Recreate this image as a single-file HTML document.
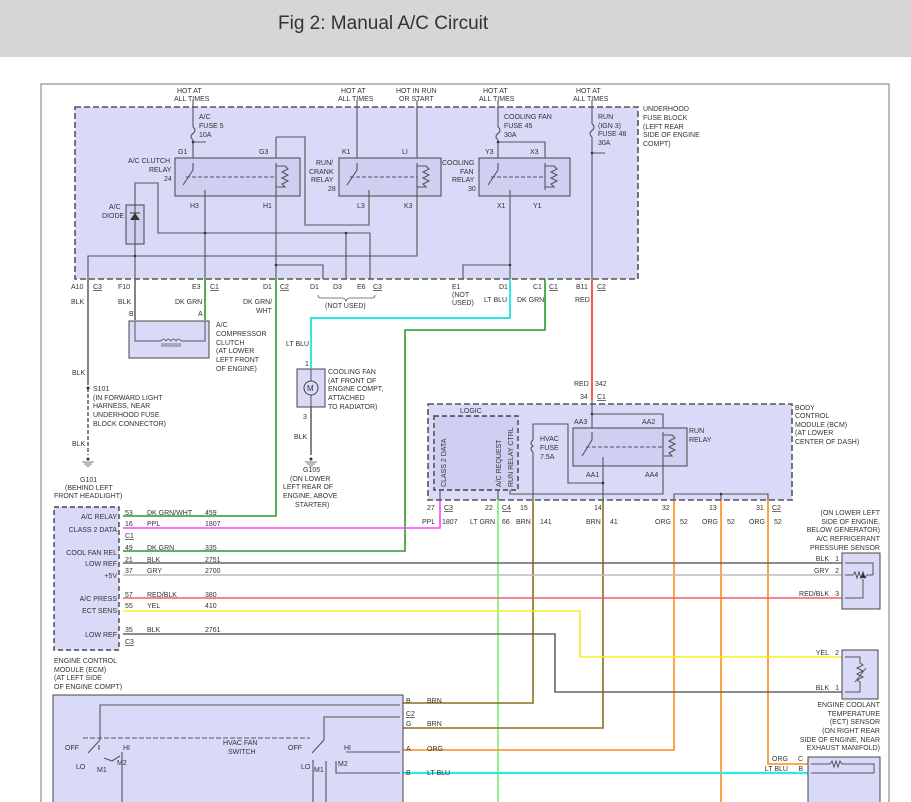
<!DOCTYPE html>
<html><head><meta charset="utf-8"><style>
html,body{margin:0;padding:0;background:#fff;}
svg{display:block;}
text{font-family:"Liberation Sans",sans-serif;font-size:7px;fill:#333;}
</style></head><body>
<svg width="911" height="802" viewBox="0 0 911 802" xmlns="http://www.w3.org/2000/svg">
<rect x="0" y="0" width="911" height="57" fill="#d6d6d6"/>
<text x="278" y="29" style="font-size:19px;fill:#333">Fig 2: Manual A/C Circuit</text>
<!-- outer frame -->
<path d="M41 802 V84 H889 V802" fill="none" stroke="#777" stroke-width="1"/>

<!-- fuse block -->
<rect x="75" y="107" width="563" height="172" fill="#d9d9f8" stroke="#555" stroke-width="1.6" stroke-dasharray="6,3"/>
<g fill="#cfcff2" stroke="#444" stroke-width="1">
<rect x="175" y="158" width="125" height="38"/>
<rect x="339" y="158" width="102" height="38"/>
<rect x="479" y="158" width="91" height="38"/>
<rect x="126" y="205" width="18" height="39"/>
</g>
<g fill="none" stroke="#555" stroke-width="1.1">
<!-- AC clutch relay internals -->
<path d="M193 100 V127 M193 140 V158 M193 142 H206"/>
<path d="M193 127 q4 3 0 6.5 q-4 3 0 6.5"/>
<path d="M193 163 V170 L183 185"/>
<path d="M186 177 H276" stroke-dasharray="4,2"/>
<path d="M205 190 V279 M276 163 V279 M276 137 V158"/>
<path d="M276 166 H285 l3 3 -6 3 6 3 -6 3 6 3 -6 3 3 3 H276"/>
<path d="M276 137 H305 V225 H369 V190"/>
<!-- diode -->
<path d="M135 205 V183 H158 V233 H370 V279 M346 233 V279"/>
<path d="M135 205 V279"/>
<path d="M88 279 V256 H417 V190"/>
<path d="M276 265 H323 V279"/>
<!-- run crank -->
<path d="M357 100 V158 M357 163 V170 L347 185 M417 100 V158"/>
<path d="M350 177 H417" stroke-dasharray="4,2"/>
<path d="M417 166 H426 l3 3 -6 3 6 3 -6 3 6 3 -6 3 3 3 H417"/>
<path d="M417 163 V190"/>
<!-- cooling fan relay -->
<path d="M498 100 V127 M498 140 V158 M498 142 H545 V158"/>
<path d="M498 127 q4 3 0 6.5 q-4 3 0 6.5"/>
<path d="M498 163 V170 L488 185"/>
<path d="M491 177 H545" stroke-dasharray="4,2"/>
<path d="M545 166 H554 l3 3 -6 3 6 3 -6 3 6 3 -6 3 3 3 H545"/>
<path d="M545 163 V190 M510 190 V279 M510 265 H463 V279"/>
<!-- run fuse -->
<path d="M592 100 V124 M592 137 V279 M592 153 H605"/>
<path d="M592 124 q4 3 0 6.5 q-4 3 0 6.5"/>
</g>
<polygon points="130,220 140,220 135,213" fill="#333"/>
<line x1="130" y1="213" x2="140" y2="213" stroke="#333"/>
<g fill="#333"><circle cx="193" cy="142" r="1.3"/><circle cx="135" cy="256" r="1.3"/><circle cx="205" cy="233" r="1.3"/><circle cx="346" cy="233" r="1.3"/><circle cx="276" cy="265" r="1.3"/><circle cx="498" cy="142" r="1.3"/><circle cx="510" cy="265" r="1.3"/><circle cx="592" cy="153" r="1.3"/></g>
<text x="177" y="93">HOT AT</text><text x="174" y="101">ALL TIMES</text>
<text x="341" y="93">HOT AT</text><text x="338" y="101">ALL TIMES</text>
<text x="396" y="93">HOT IN RUN</text><text x="399" y="101">OR START</text>
<text x="483" y="93">HOT AT</text><text x="479" y="101">ALL TIMES</text>
<text x="576" y="93">HOT AT</text><text x="573" y="101">ALL TIMES</text>
<text x="199" y="119">A/C</text><text x="199" y="128">FUSE 5</text><text x="199" y="137">10A</text>
<text x="178" y="154">G1</text><text x="259" y="154">G3</text>
<text x="128" y="163">A/C CLUTCH</text><text x="149" y="172">RELAY</text><text x="164" y="181">24</text>
<text x="190" y="208">H3</text><text x="263" y="208">H1</text>
<text x="109" y="209">A/C</text><text x="102" y="218">DIODE</text>
<text x="342" y="154">K1</text><text x="402" y="154">LI</text>
<text x="316" y="165">RUN/</text><text x="309" y="174">CRANK</text><text x="311" y="182">RELAY</text><text x="328" y="191">28</text>
<text x="357" y="208">L3</text><text x="404" y="208">K3</text>
<text x="442" y="165">COOLING</text><text x="460" y="174">FAN</text><text x="452" y="182">RELAY</text><text x="468" y="191">30</text>
<text x="504" y="119">COOLING FAN</text><text x="504" y="128">FUSE 45</text><text x="504" y="137">30A</text>
<text x="485" y="154">Y3</text><text x="530" y="154">X3</text>
<text x="497" y="208">X1</text><text x="533" y="208">Y1</text>
<text x="598" y="119">RUN</text><text x="598" y="128">(IGN 3)</text><text x="598" y="136">FUSE 48</text><text x="598" y="145">30A</text>
<text x="643" y="111">UNDERHOOD</text><text x="643" y="120">FUSE BLOCK</text><text x="643" y="129">(LEFT REAR</text><text x="643" y="137">SIDE OF ENGINE</text><text x="643" y="146">COMPT)</text>
<!-- connector labels -->
<text x="71" y="289">A10</text><text x="93" y="289" text-decoration="underline">C3</text>
<text x="118" y="289">F10</text>
<text x="192" y="289">E3</text><text x="210" y="289" text-decoration="underline">C1</text>
<text x="263" y="289">D1</text><text x="280" y="289" text-decoration="underline">C2</text>
<text x="310" y="289">D1</text><text x="333" y="289">D3</text><text x="357" y="289">E6</text><text x="373" y="289" text-decoration="underline">C3</text>
<path d="M318 295 q0 3 3 3 H342 q3 0 4 3 q1 -3 4 -3 H372 q3 0 3 -3" fill="none" stroke="#555" stroke-width="0.8"/>
<text x="325" y="308">(NOT USED)</text>
<text x="452" y="289">E1</text><text x="452" y="297">(NOT</text><text x="452" y="305">USED)</text>
<text x="499" y="289">D1</text><text x="533" y="289">C1</text><text x="549" y="289" text-decoration="underline">C1</text>
<text x="576" y="289">B11</text><text x="597" y="289" text-decoration="underline">C2</text>
<text x="71" y="304">BLK</text><text x="118" y="304">BLK</text><text x="175" y="304">DK GRN</text><text x="243" y="304">DK GRN/</text><text x="256" y="313">WHT</text>
<text x="484" y="302">LT BLU</text><text x="517" y="302">DK GRN</text><text x="575" y="302">RED</text>

<!-- main wires -->
<g fill="none" stroke-width="1.6">
<path d="M88 279 V385" stroke="#666"/>
<path d="M88 388 V455" stroke="#666" stroke-dasharray="4,2"/>
<path d="M135 279 V320" stroke="#666"/>
<path d="M205 279 V320" stroke="#2a9a2a"/>
<path d="M276 279 V516 H123" stroke="#2a9a2a"/>
<path d="M510 279 V318 H311 V368" stroke="#2ee8e8" stroke-width="2"/>
<path d="M545 279 V330 H405 V551 H123" stroke="#2a9a2a"/>
<path d="M592 279 V400" stroke="#f03030"/>
<path d="M311 407 V455" stroke="#666"/>
<path d="M440 500 V528 H123" stroke="#ff44ff"/>
<path d="M498 500 V802" stroke="#44ee44" stroke-width="1.2"/>
<path d="M533 500 V703 H403" stroke="#8c6d1f"/>
<path d="M603 500 V728 H403" stroke="#8c6d1f"/>
<path d="M674 500 V750 H403" stroke="#ff8c1a"/>
<path d="M721 500 V802" stroke="#ff8c1a"/>
<path d="M768 500 V764 H808" stroke="#ff8c1a"/>
<path d="M403 773 H808" stroke="#2ee8e8" stroke-width="2.2"/>
<path d="M123 563 H843" stroke="#666"/>
<path d="M123 575 H843" stroke="#bbb"/>
<path d="M123 598 H843" stroke="#f06060"/>
<path d="M123 611 H580 V657 H843" stroke="#f0f020"/>
<path d="M123 634 H555 V692 H843" stroke="#666"/>
</g>

<!-- compressor -->
<rect x="129" y="321" width="80" height="37" fill="#d9d9f8" stroke="#444"/>
<path d="M135 321 V341 H161 M181 341 H205 V321" fill="none" stroke="#555"/>
<path d="M161 341 q2.5 -4 5 0 q2.5 -4 5 0 q2.5 -4 5 0 q2.5 -4 5 0 M161 344 H181 M161 346 H181" fill="none" stroke="#555" stroke-width="0.8"/>
<text x="129" y="316">B</text><text x="198" y="316">A</text>
<text x="216" y="327">A/C</text><text x="216" y="336">COMPRESSOR</text><text x="216" y="345">CLUTCH</text><text x="216" y="353">(AT LOWER</text><text x="216" y="362">LEFT FRONT</text><text x="216" y="371">OF ENGINE)</text>
<!-- S101 G101 -->
<circle cx="88" cy="388" r="1.5" fill="#333"/>
<text x="72" y="375">BLK</text><text x="93" y="391">S101</text><text x="93" y="400">(IN FORWARD LIGHT</text><text x="93" y="408">HARNESS, NEAR</text><text x="93" y="417">UNDERHOOD FUSE</text><text x="93" y="426">BLOCK CONNECTOR)</text>
<text x="72" y="446">BLK</text>
<circle cx="88" cy="459" r="1.5" fill="#333"/><path d="M82 462 H94 M84 464 H92 M86 466 H90" stroke="#777"/>
<text x="80" y="482">G101</text><text x="65" y="490">(BEHIND LEFT</text><text x="54" y="498">FRONT HEADLIGHT)</text>
<!-- fan -->
<rect x="297" y="369" width="28" height="38" fill="#d9d9f8" stroke="#444"/>
<path d="M311 369 V407" stroke="#555"/>
<circle cx="311" cy="388" r="7" fill="#d9d9f8" stroke="#444"/>
<text x="307" y="391" style="font-size:8px">M</text>
<text x="286" y="346">LT BLU</text><text x="305" y="366">1</text><text x="303" y="419">3</text><text x="294" y="439">BLK</text>
<text x="328" y="374">COOLING FAN</text><text x="328" y="383">(AT FRONT OF</text><text x="328" y="391">ENGINE COMPT,</text><text x="328" y="400">ATTACHED</text><text x="328" y="409">TO RADIATOR)</text>
<circle cx="311" cy="459" r="1.5" fill="#333"/><path d="M305 462 H317 M307 464 H315 M309 466 H313" stroke="#777"/>
<text x="303" y="472">G105</text><text x="290" y="481">(ON LOWER</text><text x="283" y="489">LEFT REAR OF</text><text x="283" y="498">ENGINE, ABOVE</text><text x="295" y="507">STARTER)</text>

<!-- BCM -->
<text x="574" y="386">RED</text><text x="595" y="386">342</text>
<text x="580" y="399">34</text><text x="597" y="399" text-decoration="underline">C1</text>
<rect x="428" y="404" width="364" height="96" fill="#d9d9f8" stroke="#555" stroke-width="1.6" stroke-dasharray="6,3"/>
<rect x="434" y="416" width="84" height="74" fill="#cfcff2" stroke="#444" stroke-width="1.4" stroke-dasharray="5,3"/>
<rect x="573" y="428" width="114" height="38" fill="#cfcff2" stroke="#444"/>
<g fill="none" stroke="#555" stroke-width="1.1">
<path d="M592 400 V428 M592 414 H663 V428 M592 432 V440 L582 456"/>
<path d="M586 447 H663" stroke-dasharray="4,2"/>
<path d="M663 435 H672 l3 3 -6 3 6 3 -6 3 6 3 -6 3 3 3 H663 M663 432 V460"/>
<path d="M603 457 V500 M603 483 H568 V424 H533 V440 M533 452 V500"/>
<path d="M533 440 q-4 3 0 6 q-4 3 0 6"/>
<path d="M663 460 V494 H510 V490"/>
<path d="M674 500 V494 H768 V500 M721 494 V500"/>
<path d="M440 490 V500 M498 490 V500"/>
</g>
<circle cx="592" cy="414" r="1.3" fill="#333"/><circle cx="603" cy="483" r="1.3" fill="#333"/><circle cx="721" cy="494" r="1.3" fill="#333"/>
<text x="460" y="413">LOGIC</text>
<text transform="translate(446,487) rotate(-90)">CLASS 2 DATA</text>
<text transform="translate(501,487) rotate(-90)">A/C REQUEST</text>
<text transform="translate(513,487) rotate(-90)">RUN RELAY CTRL</text>
<text x="540" y="441">HVAC</text><text x="540" y="450">FUSE</text><text x="540" y="459">7.5A</text>
<text x="574" y="424">AA3</text><text x="642" y="424">AA2</text><text x="586" y="477">AA1</text><text x="645" y="477">AA4</text>
<text x="689" y="433">RUN</text><text x="689" y="442">RELAY</text>
<text x="795" y="410">BODY</text><text x="795" y="418">CONTROL</text><text x="795" y="427">MODULE (BCM)</text><text x="795" y="435">(AT LOWER</text><text x="795" y="444">CENTER OF DASH)</text>
<text x="427" y="510">27</text><text x="444" y="510" text-decoration="underline">C3</text>
<text x="485" y="510">22</text><text x="502" y="510" text-decoration="underline">C4</text>
<text x="520" y="510">15</text><text x="594" y="510">14</text><text x="662" y="510">32</text><text x="709" y="510">13</text><text x="756" y="510">31</text><text x="772" y="510" text-decoration="underline">C2</text>
<text x="422" y="524">PPL</text><text x="442" y="524">1807</text>
<text x="470" y="524">LT GRN</text><text x="502" y="524">66</text>
<text x="516" y="524">BRN</text><text x="540" y="524">141</text>
<text x="586" y="524">BRN</text><text x="610" y="524">41</text>
<text x="655" y="524">ORG</text><text x="680" y="524">52</text>
<text x="702" y="524">ORG</text><text x="727" y="524">52</text>
<text x="749" y="524">ORG</text><text x="774" y="524">52</text>

<!-- ECM -->
<rect x="54" y="507" width="65" height="143" fill="#d9d9f8" stroke="#444" stroke-width="1.4" stroke-dasharray="5,3"/>
<g text-anchor="end">
<text x="117" y="519">A/C RELAY</text><text x="117" y="532">CLASS 2 DATA</text><text x="117" y="555">COOL FAN REL</text><text x="117" y="566">LOW REF</text><text x="117" y="578">+5V</text><text x="117" y="601">A/C PRESS</text><text x="117" y="613">ECT SENS</text><text x="117" y="637">LOW REF</text>
</g>
<g>
<text x="125" y="515">53</text><text x="147" y="515">DK GRN/WHT</text><text x="205" y="515">459</text>
<text x="125" y="526">16</text><text x="147" y="526">PPL</text><text x="205" y="526">1807</text>
<text x="125" y="538" text-decoration="underline">C1</text>
<text x="125" y="550">49</text><text x="147" y="550">DK GRN</text><text x="205" y="550">335</text>
<text x="125" y="562">21</text><text x="147" y="562">BLK</text><text x="205" y="562">2751</text>
<text x="125" y="573">37</text><text x="147" y="573">GRY</text><text x="205" y="573">2700</text>
<text x="125" y="597">57</text><text x="147" y="597">RED/BLK</text><text x="205" y="597">380</text>
<text x="125" y="608">55</text><text x="147" y="608">YEL</text><text x="205" y="608">410</text>
<text x="125" y="632">35</text><text x="147" y="632">BLK</text><text x="205" y="632">2761</text>
<text x="125" y="644" text-decoration="underline">C3</text>
</g>
<text x="54" y="663">ENGINE CONTROL</text><text x="54" y="672">MODULE (ECM)</text><text x="54" y="680">(AT LEFT SIDE</text><text x="54" y="689">OF ENGINE COMPT)</text>

<!-- pressure sensor -->
<rect x="842" y="553" width="38" height="56" fill="#d9d9f8" stroke="#444"/>
<path d="M845 563 H873 V575 M845 575 H853 l2 -3 2 6 2 -6 2 6 2 -6 2 6 2 -3 H873 M845 598 H863 V579" fill="none" stroke="#555"/>
<polygon points="860,578 866,578 863,573" fill="#333"/>
<g text-anchor="end">
<text x="880" y="515">(ON LOWER LEFT</text><text x="880" y="524">SIDE OF ENGINE,</text><text x="880" y="532">BELOW GENERATOR)</text><text x="880" y="541">A/C REFRIGERANT</text><text x="880" y="550">PRESSURE SENSOR</text>
<text x="829" y="561">BLK</text><text x="839" y="561">1</text>
<text x="829" y="573">GRY</text><text x="839" y="573">2</text>
<text x="829" y="596">RED/BLK</text><text x="839" y="596">3</text>
<text x="829" y="655">YEL</text><text x="839" y="655">2</text>
<text x="829" y="690">BLK</text><text x="839" y="690">1</text>
<text x="880" y="707">ENGINE COOLANT</text><text x="880" y="716">TEMPERATURE</text><text x="880" y="724">(ECT) SENSOR</text><text x="880" y="733">(ON RIGHT REAR</text><text x="880" y="742">SIDE OF ENGINE, NEAR</text><text x="880" y="750">EXHAUST MANIFOLD)</text>
<text x="788" y="761">ORG</text><text x="803" y="761">C</text>
<text x="788" y="771">LT BLU</text><text x="803" y="771">B</text>
</g>
<!-- ECT -->
<rect x="842" y="650" width="36" height="49" fill="#d9d9f8" stroke="#444"/>
<path d="M845 657 H860 V663 l3 2 -6 3 6 3 -6 3 6 3 -6 3 3 2 V692 H845 M855 682 L866 668" fill="none" stroke="#555"/>
<!-- blower resistor box -->
<rect x="808" y="757" width="72" height="50" fill="#d9d9f8" stroke="#444"/>
<path d="M811 764 H830 l2 -3 2 6 2 -6 2 6 2 -6 2 3 H874 V773 M811 773 H874" fill="none" stroke="#555"/>

<!-- HVAC fan switch -->
<rect x="53" y="695" width="350" height="120" fill="#d9d9f8" stroke="#444"/>
<g fill="none" stroke="#555" stroke-width="1.1">
<path d="M100 740 V705 H400 M324 740 V717 H400 M346 752 H400 M336 761 V773 H400"/>
<path d="M83 738 H310" stroke-dasharray="5,2"/>
<path d="M100 740 L88 753 M324 740 L312 753 M122 752 V802 M99 750 V745 M104 758 L112 761 L120 756"/>
<path d="M313 760 V802 M326 761 V802"/>
</g>
<text x="406" y="703">B</text><text x="427" y="703">BRN</text>
<text x="406" y="716" text-decoration="underline">C2</text>
<text x="406" y="726">G</text><text x="427" y="726">BRN</text>
<text x="406" y="751">A</text><text x="427" y="751">ORG</text>
<text x="406" y="775">B</text><text x="427" y="775">LT BLU</text>
<text x="65" y="750">OFF</text><text x="123" y="750">HI</text><text x="76" y="769">LO</text><text x="117" y="765">M2</text><text x="97" y="772">M1</text>
<text x="223" y="745">HVAC FAN</text><text x="228" y="754">SWITCH</text>
<text x="288" y="750">OFF</text><text x="344" y="750">HI</text><text x="301" y="769">LO</text><text x="314" y="772">M1</text><text x="338" y="766">M2</text>
</svg>
</body></html>
